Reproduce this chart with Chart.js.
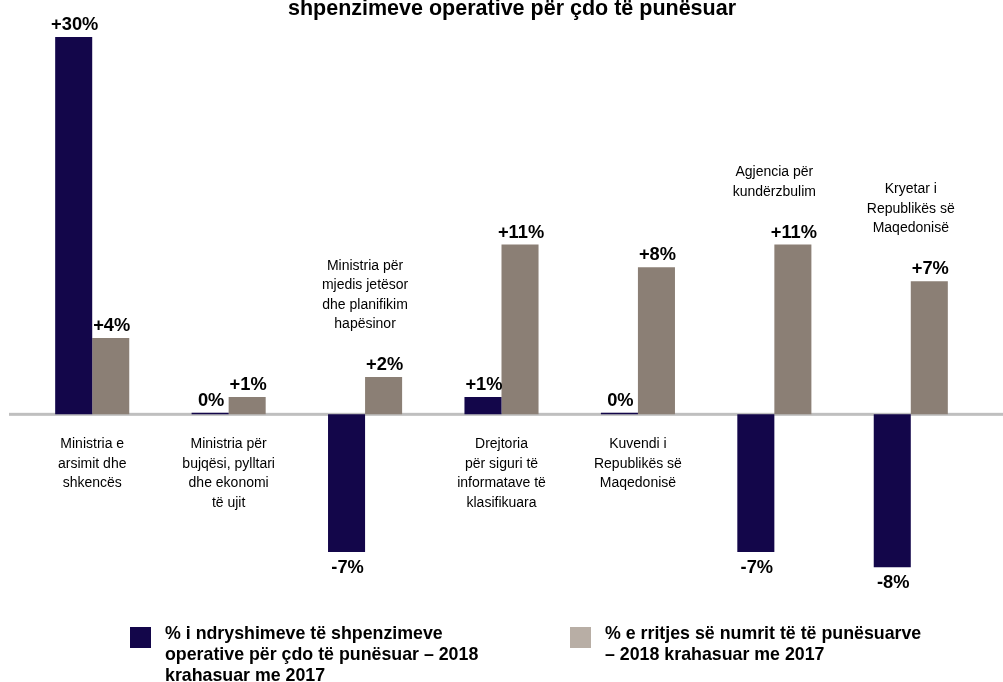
<!DOCTYPE html>
<html>
<head>
<meta charset="utf-8">
<script src="https://cdn.jsdelivr.net/npm/chart.js@4/dist/chart.umd.min.js"></script>
<style>
    body { margin: 0; background: #fff; font-family: "Liberation Sans", Arial, sans-serif; }
    #wrap { position: relative; width: 1003px; height: 682px; overflow: hidden; }
    #chart { position: absolute; left: 0; top: 0; }
    #title { position: absolute; left: 0; width: 1024px; top: -2px; text-align: center;
             font-weight: bold; font-size: 21.5px; line-height: 21px; color: #000; }
    .legend-item { position: absolute; top: 623px; font-weight: bold; font-size: 17.8px;
                   line-height: 21px; color: #000; }
    .legend-item .box { position: absolute; left: -35px; top: 4px; width: 21px; height: 21px; }
</style>
</head>
<body>
<div id="wrap">
    <canvas id="chart" width="1003" height="682"></canvas>
    <div id="title">shpenzimeve operative për çdo të punësuar</div>
    <div class="legend-item" style="left:165px">
        <span class="box" style="background:#13064a"></span>
        % i ndryshimeve të shpenzimeve<br>operative për çdo të punësuar – 2018<br>krahasuar me 2017
    </div>
    <div class="legend-item" style="left:605px">
        <span class="box" style="background:#b8aea5"></span>
        % e rritjes së numrit të të punësuarve<br>– 2018 krahasuar me 2017
    </div>
</div>
<script>
var categories = [
    ['Ministria e', 'arsimit dhe', 'shkencës'],
    ['Ministria për', 'bujqësi, pylltari', 'dhe ekonomi', 'të ujit'],
    ['Ministria për', 'mjedis jetësor', 'dhe planifikim', 'hapësinor'],
    ['Drejtoria', 'për siguri të', 'informatave të', 'klasifikuara'],
    ['Kuvendi i', 'Republikës së', 'Maqedonisë'],
    ['Agjencia për', 'kundërzbulim'],
    ['Kryetar i', 'Republikës së', 'Maqedonisë']
];

// bar heights as drawn in the picture (the +30% bar runs off the top)
var costChange = [30, 0.08, -7.3, 0.92, 0.08, -7.3, -8.1];
var staffGrowth = [4.04, 0.92, 1.98, 9.0, 7.8, 9.0, 7.06];

// printed value labels
var costLabels = ['+30%', '0%', '-7%', '+1%', '0%', '-7%', '-8%'];
var staffLabels = ['+4%', '+1%', '+2%', '+11%', '+8%', '+11%', '+7%'];

var darkColor = '#13064a';
var greyColor = '#8b7f75';
var fontFamily = '"Liberation Sans", Arial, sans-serif';

var zeroLine = {
    id: 'zeroLine',
    beforeDatasetsDraw: function (chart) {
        var ctx = chart.ctx;
        var y0 = chart.scales.y.getPixelForValue(0);
        ctx.save();
        ctx.fillStyle = '#bfbfbf';
        ctx.fillRect(9, y0 - 1.5, chart.width - 9, 3);
        ctx.restore();
    }
};

var barLabels = {
    id: 'barLabels',
    afterDatasetsDraw: function (chart) {
        var ctx = chart.ctx;
        var area = chart.chartArea;
        var y0 = chart.scales.y.getPixelForValue(0);
        var texts = [costLabels, staffLabels];

        ctx.save();
        ctx.fillStyle = '#000';
        ctx.textAlign = 'center';
        ctx.textBaseline = 'alphabetic';
        ctx.font = 'bold 18.3px ' + fontFamily;

        var tops = [];
        chart.data.datasets.forEach(function (ds, di) {
            chart.getDatasetMeta(di).data.forEach(function (bar, i) {
                var v = ds.data[i];
                if (v >= 0) {
                    var top = Math.max(bar.y, area.top);
                    ctx.fillText(texts[di][i], bar.x + 1, top - 7);
                    if (di == 1) tops[i] = top - 7;
                } else {
                    ctx.fillText(texts[di][i], bar.x + 1, bar.y + 21);
                }
            });
        });

        // category names: above the bars when the dark bar goes below zero
        ctx.font = '14px ' + fontFamily;
        var lineH = 19.4;
        chart.data.labels.forEach(function (lines, i) {
            var x = chart.scales.x.getPixelForValue(i);
            var y;
            if (costChange[i] < 0) {
                y = tops[i] - 42 - (lines.length - 1) * lineH;
            } else {
                y = y0 + 34;
            }
            lines.forEach(function (line, k) {
                ctx.fillText(line, x, y + k * lineH);
            });
        });
        ctx.restore();
    }
};

new Chart(document.getElementById('chart'), {
    type: 'bar',
    data: {
        labels: categories,
        datasets: [
            {
                label: '% i ndryshimeve të shpenzimeve operative për çdo të punësuar – 2018 krahasuar me 2017',
                data: costChange,
                backgroundColor: darkColor
            },
            {
                label: '% e rritjes së numrit të të punësuarve – 2018 krahasuar me 2017',
                data: staffGrowth,
                backgroundColor: greyColor
            }
        ]
    },
    options: {
        responsive: false,
        animation: false,
        layout: {
            padding: { left: 24, right: 24, top: 37, bottom: 79 }
        },
        datasets: {
            bar: {
                barPercentage: 1,
                categoryPercentage: 0.543
            }
        },
        scales: {
            x: { display: false },
            y: { display: false, min: -10, max: 20 }
        },
        plugins: {
            legend: { display: false },
            tooltip: { enabled: false }
        }
    },
    plugins: [zeroLine, barLabels]
});
</script>
</body>
</html>
